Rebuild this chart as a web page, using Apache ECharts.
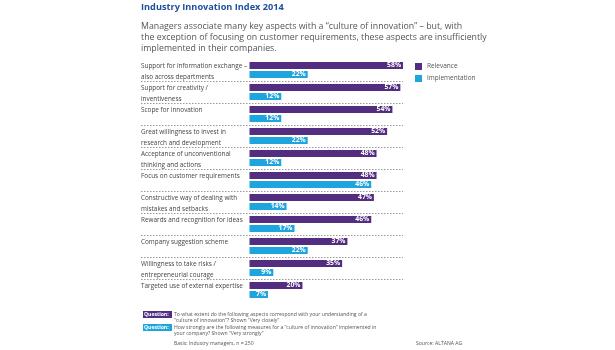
<!DOCTYPE html>
<html>
<head>
<meta charset="utf-8">
<script src="https://cdn.jsdelivr.net/npm/echarts@6/dist/echarts.min.js"></script>
<style>
  html, body { margin: 0; padding: 0; background: #fff; }
  #chart { width: 615px; height: 350px; }
</style>
</head>
<body>
<div id="chart"></div>
<script>
const categories = [
  'Support for information exchange –\nalso across departments',
  'Support for creativity /\ninventiveness',
  'Scope for innovation',
  'Great willingness to invest in\nresearch and development',
  'Acceptance of unconventional\nthinking and actions',
  'Focus on customer requirements',
  'Constructive way of dealing with\nmistakes and setbacks',
  'Rewards and recognition for ideas',
  'Company suggestion scheme',
  'Willingness to take risks /\nentrepreneurial courage',
  'Targeted use of external expertise'
];
const relevance = [58, 57, 54, 52, 48, 48, 47, 46, 37, 35, 20];
const implementation = [22, 12, 12, 22, 12, 46, 14, 17, 22, 9, 7];

const purple = '#522d80';
const cyan = '#1fa5de';
const font = 'Open Sans';

const chart = echarts.init(document.getElementById('chart'));

const barLabel = {
  show: true,
  position: 'insideRight',
  distance: 2,
  color: '#fff',
  fontWeight: 'bold',
  fontSize: 6.8,
  fontFamily: font,
  formatter: p => p.value + '%'
};

// blank spacer line on top pushes the two text lines down a little
function catLabel(v) {
  const lines = v.split('\n');
  if (lines.length < 2) lines.push(' ');
  return '{s| }\n' + lines.map(l => '{a|' + l + '}').join('\n');
}

chart.setOption({
  animation: false,
  grid: { left: 141, top: 59, width: 262, height: 242 },
  legend: {
    orient: 'vertical',
    left: 415,
    top: 63,
    padding: 0,
    itemWidth: 7,
    itemHeight: 7,
    itemGap: 5,
    icon: 'rect',
    textStyle: { fontSize: 6.5, color: '#555', fontFamily: font },
    data: ['Relevance', 'Implementation']
  },
  xAxis: {
    type: 'value',
    min: -41,
    max: 58,
    show: false
  },
  yAxis: {
    type: 'category',
    inverse: true,
    data: categories,
    axisLine: { show: false },
    axisTick: { show: false },
    splitLine: {
      show: true,
      showMinLine: false,
      showMaxLine: false,
      lineStyle: { color: '#999', width: 1, type: [1.5, 1.5] }
    },
    axisLabel: {
      align: 'left',
      margin: 0,
      interval: 0,
      showMinLabel: true,
      showMaxLabel: true,
      formatter: catLabel,
      rich: {
        s: { fontSize: 4, lineHeight: 4 },
        a: { fontSize: 6.4, lineHeight: 11, color: '#444', fontFamily: font }
      }
    }
  },
  series: [
    {
      name: 'Relevance',
      type: 'bar',
      data: relevance,
      barWidth: 7,
      barGap: '28%',
      itemStyle: { color: purple },
      label: barLabel
    },
    {
      name: 'Implementation',
      type: 'bar',
      data: implementation,
      barWidth: 7,
      itemStyle: { color: cyan },
      label: barLabel
    }
  ],
  graphic: [
    { type: 'text', left: 141, top: 3, style: { text: 'Industry Innovation Index 2014', fontSize: 9.2, fontWeight: 'bold', fill: '#1f4f9a', fontFamily: font } },
    { type: 'text', left: 141, top: 21, style: {
      text: 'Managers associate many key aspects with a “culture of innovation” – but, with\nthe exception of focusing on customer requirements, these aspects are insufficiently\nimplemented in their companies.',
      fontSize: 8.8, lineHeight: 11, fill: '#555', fontFamily: font } },
    { type: 'rect', shape: { x: 143, y: 311, width: 29, height: 7 }, style: { fill: purple } },
    { type: 'text', left: 144, top: 312, style: { text: 'Question:', fontSize: 5.1, fontWeight: 'bold', fill: '#fff', fontFamily: font } },
    { type: 'text', left: 174, top: 311, style: {
      text: 'To what extent do the following aspects correspond with your understanding of a\n“culture of innovation”? Shown “Very closely”',
      fontSize: 5.1, lineHeight: 6.5, fill: '#555', fontFamily: font } },
    { type: 'rect', shape: { x: 143, y: 324, width: 29, height: 7 }, style: { fill: cyan } },
    { type: 'text', left: 144, top: 325, style: { text: 'Question:', fontSize: 5.1, fontWeight: 'bold', fill: '#fff', fontFamily: font } },
    { type: 'text', left: 174, top: 324, style: {
      text: 'How strongly are the following measures for a “culture of innovation” implemented in\nyour company? Shown “Very strongly”',
      fontSize: 5.1, lineHeight: 6.5, fill: '#555', fontFamily: font } },
    { type: 'text', left: 174, top: 341, style: { text: 'Basis: Industry managers, n = 250', fontSize: 5.1, fill: '#555', fontFamily: font } },
    { type: 'text', left: 416, top: 341, style: { text: 'Source: ALTANA AG', fontSize: 5.1, fill: '#555', fontFamily: font } }
  ]
});
</script>
</body>
</html>
